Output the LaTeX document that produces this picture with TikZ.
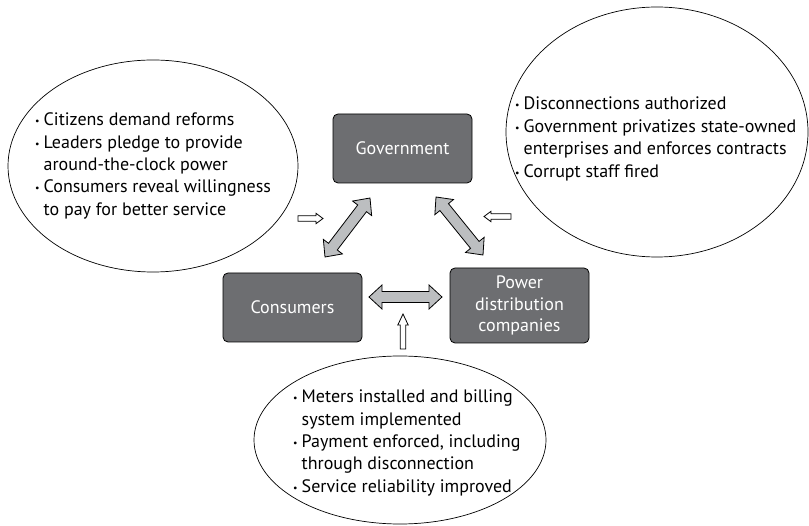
\documentclass[tikz,border=0pt]{standalone}
\usepackage{fontspec}
\setmainfont{PT Sans}
\usetikzlibrary{calc}
\definecolor{boxgray}{HTML}{6D6E71}
\definecolor{arrgray}{HTML}{BCBEC0}
\tikzset{
  agent/.style={draw=black, line width=0.8pt, fill=boxgray, rounded corners=5pt,
    minimum width=139pt, minimum height=69pt, text=white, align=center,
    font=\fontsize{18}{21.5}\selectfont, inner sep=0pt},
  bubble/.style={draw=black, line width=0.7pt},
  bullets/.style={align=left, anchor=west, inner sep=0pt,
    font=\fontsize{18}{22.4}\selectfont},
  bigarrow/.style={draw=black, line width=0.8pt, fill=arrgray, line join=miter},
  smallarrow/.style={draw=black, line width=0.8pt, fill=white, line join=miter},
}
\newcommand{\itm}{\makebox[8.5pt][l]{\raisebox{1pt}{\scalebox{0.55}{•}}}}
\newcommand{\ind}{\hspace*{8.5pt}}
% double arrow between named coordinates #1 and #2
\newcommand{\dblarrow}[2]{%
  \coordinate (#1k) at ($(#1)!13pt!(#2)$);
  \coordinate (#2k) at ($(#2)!13pt!(#1)$);
  \draw[bigarrow] (#1) -- ($(#1k)!12pt!90:(#2)$) -- ($(#1k)!5.5pt!90:(#2)$)
    -- ($(#2k)!5.5pt!-90:(#1)$) -- ($(#2k)!12pt!-90:(#1)$) -- (#2)
    -- ($(#2k)!12pt!90:(#1)$) -- ($(#2k)!5.5pt!90:(#1)$)
    -- ($(#1k)!5.5pt!-90:(#2)$) -- ($(#1k)!12pt!-90:(#2)$) -- cycle;}
% single hollow arrow from #1 (tail) to #2 (tip), head length #3
\newcommand{\sglarrow}[3]{%
  \coordinate (#2k) at ($(#2)!#3!(#1)$);
  \draw[smallarrow] (#2) -- ($(#2k)!5.2pt!90:(#1)$) -- ($(#2k)!2.7pt!90:(#1)$)
    -- ($(#1)!2.7pt!-90:(#2)$) -- ($(#1)!2.7pt!90:(#2)$)
    -- ($(#2k)!2.7pt!-90:(#1)$) -- ($(#2k)!5.2pt!-90:(#1)$) -- cycle;}
\begin{document}
\begin{tikzpicture}[x=1pt,y=-1pt]
\useasboundingbox (0,0) rectangle (809,526);
% bubbles
\draw[bubble] (153,166) ellipse[x radius=145, y radius=106];
\draw[bubble] (657,132) ellipse[x radius=151, y radius=125];
\draw[bubble] (400,440) ellipse[x radius=146, y radius=84];
% bubble texts
\node[bullets] (ltxt) at (35,166) {\itm Citizens demand reforms\\
  \itm Leaders pledge to provide\\ \ind around-the-clock power\\
  \itm Consumers reveal willingness\\ \ind to pay for better service};
\node[bullets] (rtxt) at (515,139) {\itm Disconnections authorized\\
  \itm Government privatizes state-owned\\ \ind enterprises and enforces contracts\\
  \itm Corrupt staff fired};
\node[bullets] (btxt) at (293,443) {\itm Meters installed and billing\\
  \ind system implemented\\ \itm Payment enforced, including\\
  \ind through disconnection\\ \itm Service reliability improved};
% agents
\node[agent] (gov) at (402.5,148.5) {Government};
\node[agent] (con) at (292.5,307.5) {Consumers};
\node[agent, minimum height=75pt] (pow) at (519.5,305.5) {Power\\distribution\\companies};
% big double arrows
\coordinate (gc1) at (325,257);
\coordinate (gc2) at (370,198);
\coordinate (gp1) at (436,197);
\coordinate (gp2) at (483,255);
\coordinate (cp1) at (369,297);
\coordinate (cp2) at (442,297);
\dblarrow{gc1}{gc2}
\dblarrow{gp1}{gp2}
\dblarrow{cp1}{cp2}
% small hollow arrows
\coordinate (la1) at (298,218.5);
\coordinate (la2) at (323,218.5);
\coordinate (ra1) at (511,216.5);
\coordinate (ra2) at (484,216.5);
\coordinate (ba1) at (403,349);
\coordinate (ba2) at (403,314);
\sglarrow{la1}{la2}{7pt}
\sglarrow{ra1}{ra2}{7pt}
\sglarrow{ba1}{ba2}{11pt}
\end{tikzpicture}
\end{document}
